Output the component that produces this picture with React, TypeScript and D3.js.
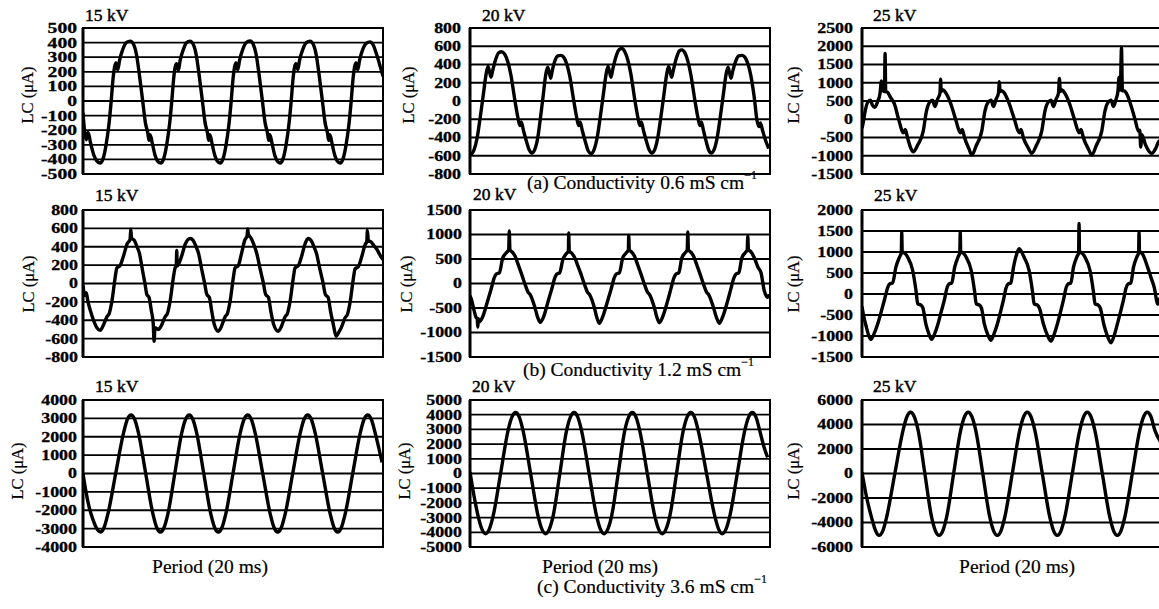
import React from 'react';
import * as d3 from 'd3';

type Pt = [number, number];

// ---------- tick labels ----------
const a1Ticks = [500, 400, 300, 200, 100, 0, -100, -200, -300, -400, -500];
const a2Ticks = [800, 600, 400, 200, 0, -200, -400, -600, -800];
const a3Ticks = [2500, 2000, 1500, 1000, 500, 0, -500, -1000, -1500];
const b1Ticks = [800, 600, 400, 200, 0, -200, -400, -600, -800];
const b2Ticks = [1500, 1000, 500, 0, -500, -1000, -1500];
const b3Ticks = [2000, 1500, 1000, 500, 0, -500, -1000, -1500];
const c1Ticks = [4000, 3000, 2000, 1000, 0, -1000, -2000, -3000, -4000];
const c2Ticks = [5000, 4000, 3000, 2000, 1000, 0, -1000, -2000, -3000, -4000, -5000];
const c3Ticks = [6000, 4000, 2000, 0, -2000, -4000, -6000];

const voltages = ['15 kV', '20 kV', '25 kV'];
const captions = ['(a) Conductivity 0.6 mS cm', '(b) Conductivity 1.2 mS cm', '(c) Conductivity 3.6 mS cm'];
const yTitle = 'LC (\u03bcA)';
const xTitle = 'Period (20 ms)';

// ---------- series: [time ms, leakage current µA] ----------
const a1Data: Pt[] = [
  [0,-80],[0.5,-200],[1.1,-265],[1.7,-215],[2.5,-285],[3.6,-370],[4.6,-410],[5.7,-425],
  [6.7,-395],[7.7,-300],[8.7,-150],[9.4,0],[10,150],[10.5,230],[11,260],[11.6,215],[12.2,280],[13.2,350],[14.4,400],[15.8,410],
  [16.8,390],[17.8,320],[18.8,180],[19.9,0],[20.8,-150],[21.6,-220],[22,-270],[22.4,-230],[23.1,-290],[24,-370],[24.8,-410],[25.9,-425],
  [26.9,-395],[27.9,-300],[28.9,-150],[29.6,0],[30.2,150],[30.7,230],[31.2,255],[31.8,210],[32.4,280],[33.4,350],[34.5,400],[35.7,410],
  [36.7,390],[37.7,320],[38.7,180],[39.8,0],[40.7,-150],[41.5,-220],[41.9,-270],[42.3,-230],[43,-290],[43.9,-370],[44.7,-410],[45.7,-425],
  [46.7,-395],[47.7,-300],[48.7,-150],[49.4,0],[50,150],[50.5,230],[51,260],[51.6,215],[52.2,280],[53.2,350],[54.4,400],[55.7,412],
  [56.7,390],[57.7,320],[58.7,180],[59.8,0],[60.7,-150],[61.5,-220],[61.9,-270],[62.3,-230],[63,-290],[63.9,-370],[64.7,-410],[65.7,-425],
  [66.7,-395],[67.7,-300],[68.7,-150],[69.4,0],[70,150],[70.5,230],[71,255],[71.6,215],[72.2,280],[73.2,350],[74.4,400],[75.7,410],
  [76.7,390],[77.7,320],[78.7,180],[79.8,0],[80.7,-150],[81.5,-220],[81.9,-270],[82.3,-230],[83,-290],[83.9,-370],[84.7,-410],[85.7,-425],
  [86.7,-395],[87.7,-300],[88.7,-150],[89.4,0],[90,150],[90.5,230],[91,260],[91.6,215],[92.2,280],[93.2,350],[94.4,395],[95.7,405],
  [96.7,385],[97.7,330],[98.6,270],[99.3,220],[100,170],
];

const a2Data: Pt[] = [
  [0,-560],[0.4,-580],
  [1.4,-530],[2.4,-400],[3.4,-180],[4.4,60],[5.4,300],[6,380],[6.5,320],[7,260],[7.6,340],[8.6,460],[9.6,530],[10.6,540],
  [11.6,510],[12.6,430],[13.6,290],[15,0],[15.9,-170],[16.6,-270],[17.1,-230],[17.8,-320],[18.8,-440],[19.8,-540],[20.6,-570],
  [21.6,-530],[22.6,-400],[23.5,-180],[24.4,60],[25.3,300],[25.9,370],[26.4,310],[26.9,250],[27.4,330],[28.3,440],[29.3,495],[30.2,500],
  [31.2,480],[32.2,410],[33.2,280],[34.6,0],[35.5,-170],[36.2,-270],[36.7,-230],[37.4,-320],[38.4,-440],[39.4,-545],[40.4,-575],
  [41.4,-530],[42.4,-400],[43.4,-180],[44.4,60],[45.4,300],[46,380],[46.5,320],[47,260],[47.6,350],[48.6,480],[49.6,560],[50.6,575],
  [51.6,540],[52.6,450],[53.6,300],[55,0],[55.9,-170],[56.6,-270],[57.1,-230],[57.8,-320],[58.8,-440],[59.8,-540],[60.6,-570],
  [61.6,-530],[62.6,-400],[63.6,-180],[64.6,60],[65.6,300],[66.2,380],[66.7,320],[67.2,260],[67.8,340],[68.8,470],[69.8,550],[70.6,560],
  [71.6,530],[72.6,440],[73.6,290],[75,0],[75.9,-170],[76.6,-270],[77.1,-230],[77.8,-320],[78.7,-440],[79.6,-540],[80.4,-570],
  [81.4,-530],[82.4,-400],[83.4,-180],[84.4,60],[85.4,300],[86,370],[86.5,310],[87,250],[87.6,330],[88.6,440],[89.6,495],[90.6,500],
  [91.6,480],[92.6,410],[93.6,280],[94.9,0],[95.6,-200],[96.3,-280],[96.8,-240],[97.5,-320],[98.5,-430],[99.6,-520],
];

const a3Data: Pt[] = [
  [0,-250],[0.5,-50],[1,200],[2,480],[2.8,520],[3.5,380],[4.3,330],[5.2,480],[6,700],[6.5,1050],[6.9,780],[7.5,760],[7.7,1800],[7.9,760],[8.5,740],
  [9.5,600],[10.8,420],[12.2,0],[13.8,-370],[14.4,-280],[15.2,-510],[16.3,-800],[17.1,-890],
  [18.6,-700],[20.4,-330],[21.5,230],[22.6,470],[23.5,520],[24.3,350],[25.2,550],[26,720],[26.2,1100],[26.4,760],[27,800],
  [28.1,700],[29.6,420],[31.2,0],[32.8,-370],[33.4,-280],[34.2,-510],[35.7,-820],[36.6,-980],
  [38.1,-720],[39.9,-330],[41,230],[42.1,470],[43,520],[43.8,350],[44.7,550],[45.5,720],[45.8,1030],[46,760],[46.5,780],
  [47.6,700],[49.1,420],[50.8,0],[52.4,-370],[53,-280],[53.8,-510],[55.5,-800],[56.6,-935],
  [58.1,-720],[59.9,-330],[61,230],[62.1,470],[63,520],[63.8,350],[64.7,550],[65.5,720],[65.8,1120],[66.1,760],[66.6,800],
  [67.7,700],[69.2,420],[70.8,0],[72.4,-370],[73,-280],[73.8,-510],[75.5,-820],[76.6,-980],
  [78.1,-720],[79.9,-330],[81,230],[82.1,470],[83,520],[83.8,350],[84.7,550],[85.3,760],[85.7,1150],[86.1,800],[86.5,1950],[86.8,780],[87.3,780],
  [88.2,700],[89.5,420],[91,0],[92.2,-330],[92.6,-300],[92.9,-760],[93.3,-420],[94.5,-700],[96.6,-935],[98,-780],[99,-600],[99.7,-700],
];

const b1Data: Pt[] = [
  [0,-20],[0.6,-130],[1.1,-100],[1.6,-190],[2.5,-300],[3.5,-400],[4.6,-480],[5.7,-510],
  [6.7,-460],[8,-360],[8.7,-330],[9.7,-180],[10.7,60],[11.3,170],[12.3,190],[13.5,300],[14.7,430],[15.7,480],[15.9,590],[16.2,495],
  [17.1,470],[18,400],[18.8,330],[19.8,150],[20.6,10],[21.3,-120],[22,-150],[22.8,-300],[23.4,-430],[23.7,-630],[24,-480],[25.1,-500],
  [26.1,-460],[27.4,-360],[28.1,-330],[29.1,-180],[30.1,60],[30.7,170],[31.1,200],[31.25,360],[31.4,190],[32.9,300],[34.1,430],[35.7,490],
  [36.7,470],[37.7,400],[38.5,330],[39.6,150],[40.5,10],[41.3,-120],[42.1,-150],[42.9,-300],[43.8,-450],[45.1,-520],
  [46.1,-470],[47.4,-360],[48.1,-330],[49.1,-180],[50.1,60],[50.7,170],[51.7,190],[52.8,320],[53.9,470],[54.7,520],[54.9,595],[55.1,540],
  [56.1,490],[57.1,410],[57.9,330],[59.1,150],[60.1,10],[60.9,-120],[61.8,-150],[62.6,-300],[63.5,-440],[65.1,-520],
  [66.1,-470],[67.4,-360],[68.1,-330],[69.1,-180],[70.1,60],[70.7,170],[71.7,190],[72.9,300],[74,430],[75,490],
  [76,470],[77,400],[77.8,330],[79,150],[80,10],[80.8,-120],[81.7,-150],[82.5,-300],[83.4,-440],[84.4,-575],[85.1,-540],
  [86.1,-480],[87.4,-370],[88.1,-340],[89.1,-190],[90.1,50],[90.7,160],[91.7,180],[92.9,290],[94,420],[94.6,460],[94.8,577],[95.1,470],
  [96.1,450],[97,410],[97.9,375],[99,310],[100,260],
];

const b2Data: Pt[] = [
  [0,-250],[0.6,-350],[1.4,-560],[2,-690],[2.4,-720],[2.6,-890],[2.8,-720],[3.1,-785],
  [4.1,-700],[5.9,-350],[7.1,-100],[8.1,120],[8.7,190],[9.8,220],[10.9,520],[12,620],[12.9,690],[13.1,1070],[13.3,690],
  [14.1,640],[15,560],[16.1,380],[17.2,190],[18.3,-10],[19.4,-180],[20.1,-230],[21.6,-480],[22.5,-680],[23.4,-790],
  [24.4,-700],[26.1,-350],[27.3,-100],[28.3,120],[28.9,190],[29.9,220],[31,500],[32,600],[32.8,660],[32.9,1030],[33.1,660],
  [33.9,620],[34.8,540],[35.9,370],[37,190],[38.1,-10],[39.2,-180],[39.9,-230],[41.4,-480],[42.3,-700],[43.1,-810],
  [44.1,-700],[45.9,-350],[47.1,-100],[48.1,120],[48.7,190],[49.8,220],[50.9,520],[52,620],[52.8,690],[52.9,980],[53.1,690],
  [53.9,640],[54.8,560],[55.9,380],[57,190],[58.1,-10],[59.2,-180],[59.9,-230],[61.4,-480],[62.3,-690],[63.1,-800],
  [64.1,-700],[65.9,-350],[67,-100],[68,120],[68.6,190],[69.6,220],[70.6,520],[71.6,620],[72.4,690],[72.6,1050],[72.8,690],
  [73.6,640],[74.5,560],[75.6,380],[76.7,190],[77.8,-10],[78.9,-180],[79.6,-230],[81.1,-480],[82.2,-700],[83.1,-810],
  [84.1,-700],[85.9,-350],[87,-100],[88,120],[88.6,190],[89.6,220],[90.6,520],[91.6,620],[92.4,690],[92.6,960],[92.8,690],
  [93.6,650],[94.8,520],[96,330],[97,220],[98.1,-150],[99.2,-280],[99.8,-220],
];

const b3Data: Pt[] = [
  [0,-300],[0.5,-500],[1.5,-800],[2.3,-1000],[3,-1080],
  [4,-950],[5.2,-720],[6.3,-450],[7.4,-160],[8.6,160],[9.2,240],[10.2,260],[11.3,640],[12.5,880],[13.1,980],[13.25,1480],[13.4,980],[13.6,1000],
  [14.4,960],[15.2,880],[16.9,560],[18,80],[18.6,-240],[19.6,-260],[20.3,-330],[21.3,-720],[22.3,-950],[23.2,-1080],
  [24.2,-950],[25.3,-720],[26.3,-450],[27.4,-160],[28.4,160],[29,240],[29.9,260],[30.9,640],[32,880],[32.6,980],[32.75,1480],[32.9,980],[33.1,1000],
  [33.9,960],[34.7,880],[36.4,560],[37.5,80],[38.1,-240],[39.1,-260],[39.8,-330],[40.8,-720],[41.9,-960],[43,-1100],
  [44,-950],[45.1,-720],[46.1,-450],[47.1,-160],[48.1,160],[48.7,240],[49.6,260],[50.5,640],[51.6,960],[52.4,1080],
  [53.2,1000],[54,880],[55.7,560],[56.8,80],[57.4,-240],[58.4,-260],[59.1,-330],[60.5,-720],[61.8,-980],[63,-1120],
  [64,-970],[65.1,-720],[66.1,-450],[67.1,-160],[68.1,160],[68.7,240],[69.6,260],[70.5,640],[71.6,880],[72.2,980],[72.35,1680],[72.5,980],[72.7,1000],
  [73.5,960],[74.3,880],[76,560],[77.1,80],[77.7,-240],[78.7,-260],[79.4,-330],[80.6,-720],[81.8,-1000],[83,-1160],
  [84,-1000],[85.1,-720],[86.1,-450],[87.1,-160],[88.1,160],[88.7,240],[89.6,260],[90.5,640],[91.6,880],[92.2,980],[92.35,1480],[92.5,980],[92.7,1000],
  [93.5,950],[95.2,640],[96.3,400],[97.4,160],[98.6,-240],[99.3,-100],[99.9,-250],
];

const c1Data: Pt[] = [
  [0,0],[1,-1000],[2,-1800],[3.3,-2500],[4.6,-3000],[5.8,-3180],
  [7,-2950],[8.3,-2200],[10.9,0],[13.5,2200],[14.8,2950],[16,3180],
  [17.2,2950],[18.5,2200],[20.9,0],[23.3,-2200],[24.6,-2950],[25.8,-3180],
  [27,-2950],[28.3,-2200],[30.6,0],[32.9,2200],[34.2,2950],[35.4,3180],
  [36.6,2950],[37.9,2200],[40.25,0],[42.6,-2200],[43.9,-2950],[45.1,-3180],
  [46.3,-2950],[47.6,-2200],[50,0],[52.4,2200],[53.7,2950],[54.9,3180],
  [56.1,2950],[57.4,2200],[59.9,0],[62.4,-2200],[63.7,-2950],[64.9,-3180],
  [66.1,-2950],[67.4,-2200],[69.9,0],[72.4,2200],[73.7,2950],[74.9,3180],
  [76.1,2950],[77.4,2200],[79.9,0],[82.4,-2200],[83.7,-2950],[84.9,-3180],
  [86.1,-2950],[87.4,-2200],[89.9,0],[92.4,2200],[93.7,2950],[94.9,3180],
  [96.1,2950],[97.4,2200],[99.7,600],
];

const c2Data: Pt[] = [
  [0,100],[1.5,-1700],[2.7,-2900],[4,-3800],[5.2,-4100],
  [6.4,-3800],[7.7,-2900],[10.2,0],[12.7,2930],[14,3850],[15.2,4150],
  [16.4,3850],[17.7,2900],[20.2,0],[22.7,-2900],[24,-3800],[25.2,-4100],
  [26.4,-3800],[27.7,-2900],[29.95,0],[32.2,2930],[33.5,3850],[34.7,4150],
  [35.9,3850],[37.2,2900],[39.7,0],[42.2,-2900],[43.5,-3800],[44.7,-4100],
  [45.9,-3800],[47.2,-2900],[49.4,0],[51.6,2930],[52.9,3850],[54.1,4150],
  [55.3,3850],[56.6,2900],[59.1,0],[61.6,-2900],[62.9,-3800],[64.1,-4100],
  [65.3,-3800],[66.6,-2900],[68.85,0],[71.1,2930],[72.4,3850],[73.6,4150],
  [74.8,3850],[76.1,2900],[78.85,0],[81.6,-2900],[82.9,-3800],[84.1,-4100],
  [85.3,-3800],[86.6,-2900],[89.1,0],[91.6,2930],[92.9,3850],[94.1,4150],
  [95.3,3850],[96.6,2900],[98,1800],[99.2,1100],
];

const c3Data: Pt[] = [
  [0,100],[1.5,-1900],[3.2,-3600],[4.5,-4650],[5.7,-5050],
  [6.9,-4700],[8.2,-3570],[10.95,0],[13.7,3540],[15,4650],[16.2,5000],
  [17.4,4650],[18.7,3540],[20.95,0],[23.2,-3570],[24.5,-4700],[25.7,-5050],
  [26.9,-4700],[28.2,-3570],[30.55,0],[32.9,3540],[34.2,4650],[35.4,5000],
  [36.6,4650],[37.9,3540],[40.25,0],[42.6,-3570],[43.9,-4700],[45.1,-5050],
  [46.3,-4700],[47.6,-3570],[50.1,0],[52.6,3540],[53.9,4650],[55.1,5000],
  [56.3,4650],[57.6,3540],[60.1,0],[62.6,-3570],[63.9,-4700],[65.1,-5050],
  [66.3,-4700],[67.6,-3570],[70.1,0],[72.6,3540],[73.9,4650],[75.1,5000],
  [76.3,4650],[77.6,3540],[80.1,0],[82.6,-3570],[83.9,-4700],[85.1,-5050],
  [86.3,-4700],[87.6,-3570],[90.1,0],[92.6,3540],[93.9,4650],[95.1,5000],
  [96.3,4650],[97.6,3540],[99.5,2600],
];

// ---------- layout (positions only) ----------
const FONT = "'Liberation Serif', 'Times New Roman', serif";
const colLeft = [83, 470, 862];
const rowBand: [number, number][] = [[28, 174], [210, 357], [400, 547]];
const panelWidth = 300;
const tickRight = [[77, 461, 853], [78, 462, 853], [77, 462, 853]];
const yLabX = [[27, 408, 793], [28, 406, 793], [17, 404, 793]];
const yLabY = [95, 284, 471];
const titlePos = [
  [[85, 21], [482, 21], [873, 21]],
  [[95, 201], [473, 200], [874, 201]],
  [[95, 392], [472, 392], [873, 392]],
];
const captionPos = [[527, 189], [523, 376], [537, 593]];
const periodX = [210, 600, 1017];
const periodY = 573;

const grid = [
  [{ t: a1Ticks, d: a1Data }, { t: a2Ticks, d: a2Data }, { t: a3Ticks, d: a3Data }],
  [{ t: b1Ticks, d: b1Data }, { t: b2Ticks, d: b2Data }, { t: b3Ticks, d: b3Data }],
  [{ t: c1Ticks, d: c1Data }, { t: c2Ticks, d: c2Data }, { t: c3Ticks, d: c3Data }],
];

function Panel({ r, c }: { r: number; c: number }) {
  const { t: ticks, d: data } = grid[r][c];
  const left = colLeft[c];
  const [top, bottom] = rowBand[r];
  const x = d3.scaleLinear().domain([0, 100]).range([left, left + panelWidth]);
  const y = d3.scaleLinear().domain([d3.min(ticks)!, d3.max(ticks)!]).range([bottom, top]);
  const line = d3.line<Pt>().x(p => x(p[0])).y(p => y(p[1])).curve(d3.curveMonotoneX);
  const id = `clip-${r}-${c}`;
  const [tx, ty] = titlePos[r][c];
  const sx = r === 0 && c === 0 ? 1.4 : 1.28;
  return (
    <g>
      <defs>
        <clipPath id={id}>
          <rect x={left} y={top} width={panelWidth} height={bottom - top} />
        </clipPath>
      </defs>
      {ticks.map(v => (
        <line key={v} x1={left} x2={left + panelWidth} y1={y(v)} y2={y(v)} stroke="#000" strokeWidth={1.8} />
      ))}
      <rect x={left} y={top} width={panelWidth} height={bottom - top} fill="none" stroke="#000" strokeWidth={2} />
      <line x1={left} x2={left} y1={top} y2={bottom} stroke="#000" strokeWidth={3} />
      <path d={line(data) || ''} fill="none" stroke="#000" strokeWidth={3.4} strokeLinejoin="round" clipPath={`url(#${id})`} />
      {ticks.map(v => (
        <text
          key={'l' + v}
          transform={`translate(${tickRight[r][c]},${y(v)}) scale(${sx},1)`}
          textAnchor="end"
          dy="0.35em"
          fontFamily={FONT}
          fontWeight="bold"
          fontSize={14}
          stroke="#000"
          strokeWidth={0.3}
        >
          {`${v}`}
        </text>
      ))}
      <text
        transform={`translate(${yLabX[r][c]},${yLabY[r]}) rotate(-90)`}
        textAnchor="middle"
        dy="0.35em"
        fontFamily={FONT}
        fontSize={16.5}
        stroke="#000"
        strokeWidth={0.2}
      >
        {yTitle}
      </text>
      <text x={tx} y={ty} fontFamily={FONT} fontSize={17.5} stroke="#000" strokeWidth={0.45}>
        {voltages[c]}
      </text>
      {r === 2 && (
        <text x={periodX[c]} y={periodY} textAnchor="middle" fontFamily={FONT} fontSize={19.5} stroke="#000" strokeWidth={0.2}>
          {xTitle}
        </text>
      )}
    </g>
  );
}

export default function App() {
  const W = 1159;
  const H = 609;
  return (
    <svg
      width={W}
      height={H}
      viewBox={`0 0 ${W} ${H}`}
      style={{ position: 'absolute', left: 0, top: 0, background: '#fff' }}
    >
      <rect x={0} y={0} width={W} height={H} fill="#fff" />
      {[0, 1, 2].map(r => [0, 1, 2].map(c => <Panel key={`${r}-${c}`} r={r} c={c} />))}
      {captions.map((txt, i) => (
        <text key={txt} x={captionPos[i][0]} y={captionPos[i][1]} fontFamily={FONT} fontSize={19.5} stroke="#000" strokeWidth={0.2}>
          {txt}
          <tspan dy={-10} fontSize={12}>{'\u22121'}</tspan>
        </text>
      ))}
    </svg>
  );
}
